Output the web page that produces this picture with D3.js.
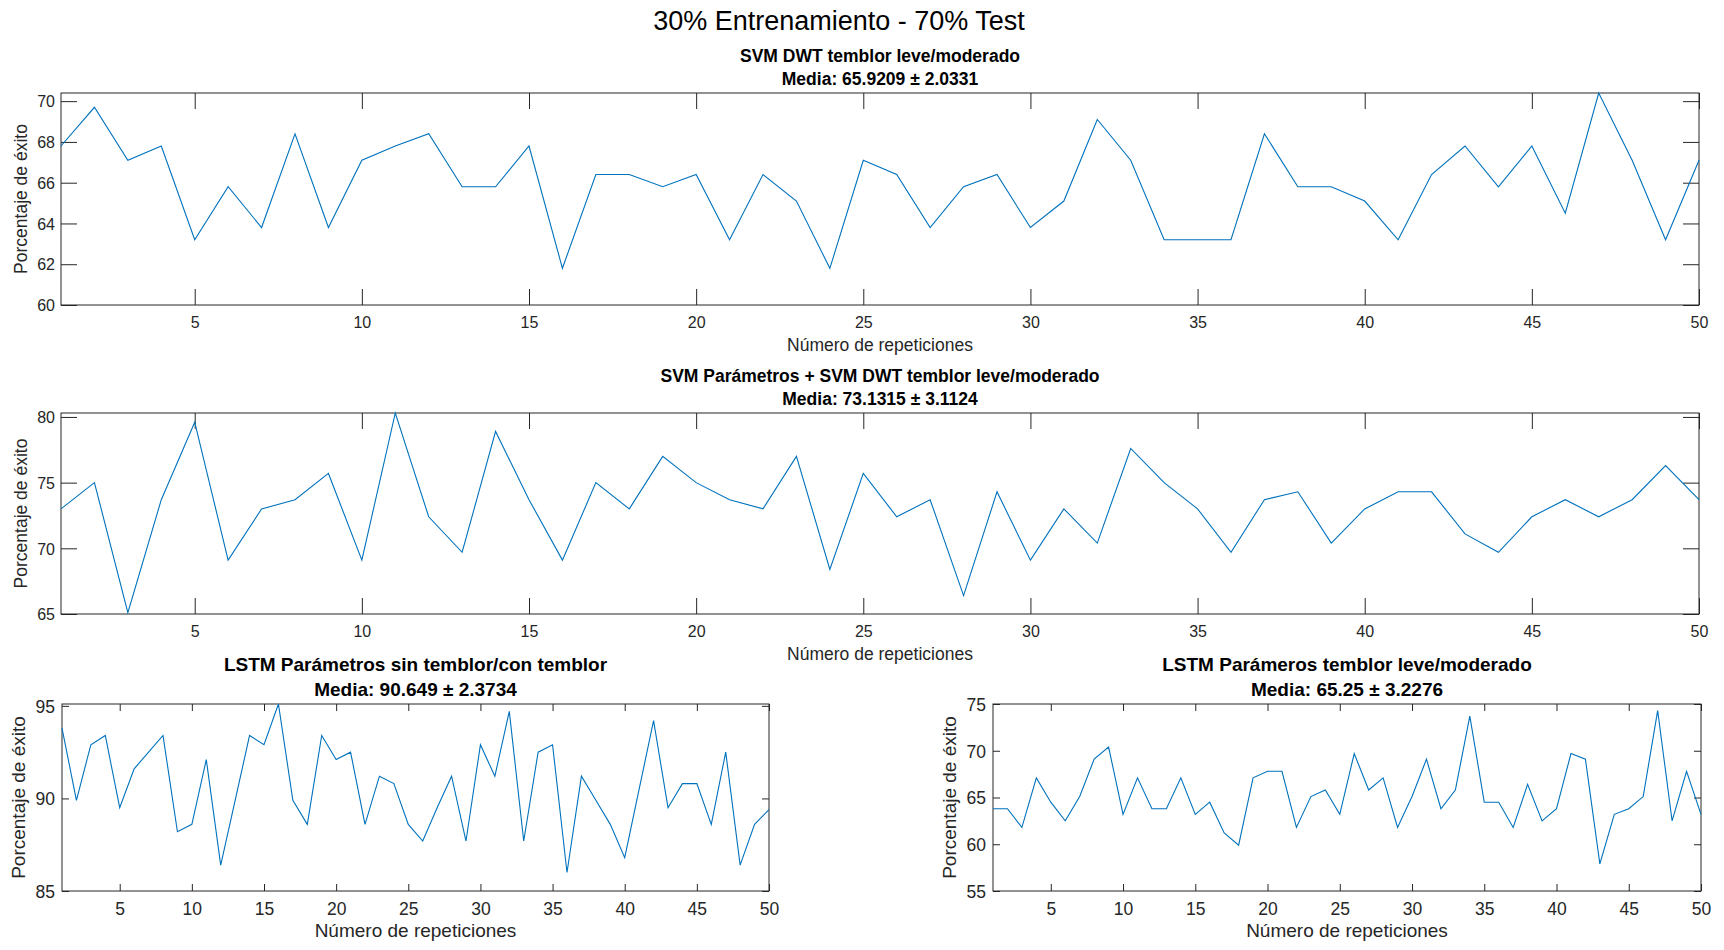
<!DOCTYPE html>
<html>
<head>
<meta charset="utf-8">
<script src="https://cdn.jsdelivr.net/npm/d3@7"></script>
<style>
  html, body { margin: 0; padding: 0; background: #fff; }
  svg { display: block; font-family: "Liberation Sans", Arial, Helvetica, sans-serif; }
</style>
</head>
<body>
<svg id="fig" width="1724" height="950"></svg>
<script>
// Success rate (%) over 50 repetitions, 30% training / 70% test
const repeticiones = d3.range(1, 51);
const xTicks = [5, 10, 15, 20, 25, 30, 35, 40, 45, 50];

const svmDwt = [
  67.8, 69.7, 67.1, 67.8, 63.2, 65.8, 63.8, 68.4, 63.8, 67.1,
  67.8, 68.4, 65.8, 65.8, 67.8, 61.8, 66.4, 66.4, 65.8, 66.4,
  63.2, 66.4, 65.1, 61.8, 67.1, 66.4, 63.8, 65.8, 66.4, 63.8,
  65.1, 69.1, 67.1, 63.2, 63.2, 63.2, 68.4, 65.8, 65.8, 65.1,
  63.2, 66.4, 67.8, 65.8, 67.8, 64.5, 70.4, 67.1, 63.2, 67.1
];
const svmParamDwt = [
  73.0, 75.0, 65.1, 73.7, 79.6, 69.1, 73.0, 73.7, 75.7, 69.1,
  80.3, 72.4, 69.7, 78.9, 73.7, 69.1, 75.0, 73.0, 77.0, 75.0,
  73.7, 73.0, 77.0, 68.4, 75.7, 72.4, 73.7, 66.4, 74.3, 69.1,
  73.0, 70.4, 77.6, 75.0, 73.0, 69.7, 73.7, 74.3, 70.4, 73.0,
  74.3, 74.3, 71.1, 69.7, 72.4, 73.7, 72.4, 73.7, 76.3, 73.7
];
const lstmSinCon = [
  93.8, 89.9, 92.9, 93.4, 89.5, 91.6, 92.5, 93.4, 88.2, 88.6,
  92.1, 86.4, 89.9, 93.4, 92.9, 95.1, 89.9, 88.6, 93.4, 92.1,
  92.5, 88.6, 91.2, 90.8, 88.6, 87.7, 89.5, 91.2, 87.7, 92.9,
  91.2, 94.7, 87.7, 92.5, 92.9, 86.0, 91.2, 89.9, 88.6, 86.8,
  90.5, 94.2, 89.5, 90.8, 90.8, 88.6, 92.5, 86.4, 88.6, 89.4
];
const lstmLeveMod = [
  63.8, 63.8, 61.8, 67.1, 64.5, 62.5, 65.1, 69.1, 70.4, 63.2,
  67.1, 63.8, 63.8, 67.1, 63.2, 64.5, 61.2, 59.9, 67.1, 67.8,
  67.8, 61.8, 65.1, 65.8, 63.2, 69.7, 65.8, 67.1, 61.8, 65.1,
  69.1, 63.8, 65.8, 73.7, 64.5, 64.5, 61.8, 66.4, 62.5, 63.8,
  69.7, 69.1, 57.9, 63.2, 63.8, 65.1, 74.3, 62.5, 67.8, 63.2
];

const yTicksSvmDwt = [60, 62, 64, 66, 68, 70];
const yTicksSvmParamDwt = [65, 70, 75, 80];
const yTicksLstmSinCon = [85, 90, 95];
const yTicksLstmLeveMod = [55, 60, 65, 70, 75];

const figTitle = "30% Entrenamiento - 70% Test";
const titles = [
  "SVM DWT temblor leve/moderado",
  "SVM Parámetros + SVM DWT temblor leve/moderado",
  "LSTM Parámetros sin temblor/con temblor",
  "LSTM Parámeros temblor leve/moderado"
];
const subtitles = [
  "Media: 65.9209 ± 2.0331",
  "Media: 73.1315 ± 3.1124",
  "Media: 90.649 ± 2.3734",
  "Media: 65.25 ± 3.2276"
];
const xLabel = "Número de repeticiones";
const yLabel = "Porcentaje de éxito";

const svg = d3.select("#fig");
const AX = "#262626";

svg.append("text")
  .attr("x", 839).attr("y", 30)
  .attr("text-anchor", "middle")
  .attr("font-size", 27)
  .attr("fill", "#000")
  .text(figTitle);

function drawPanel(values, yTicks, title, subtitle, box, st) {
  const x = d3.scaleLinear().domain([1, 50]).range([box.left, box.right]);
  const yTop = Math.max(d3.max(values), yTicks[yTicks.length - 1]);
  const y = d3.scaleLinear().domain([yTicks[0], yTop]).range([box.bottom, box.top]);
  const g = svg.append("g");

  // inward ticks on all four sides
  const bottomAxis = g.append("g")
    .attr("transform", `translate(0,${box.bottom})`)
    .call(d3.axisBottom(x).tickValues(xTicks).tickSizeInner(-st.tick).tickSizeOuter(0));
  bottomAxis.selectAll("text")
    .attr("y", st.xTickDy).attr("dy", 0)
    .attr("font-size", st.tickFont).attr("fill", AX);

  g.append("g")
    .attr("transform", `translate(0,${box.top})`)
    .call(d3.axisTop(x).tickValues(xTicks).tickSizeInner(-st.tick).tickSizeOuter(0).tickFormat(""));

  const leftAxis = g.append("g")
    .attr("transform", `translate(${box.left},0)`)
    .call(d3.axisLeft(y).tickValues(yTicks).tickSizeInner(-st.tick).tickSizeOuter(0).tickFormat(d3.format("d")));
  leftAxis.selectAll("text")
    .attr("x", -st.yTickDx).attr("dy", "0.36em")
    .attr("font-size", st.tickFont).attr("fill", AX);

  g.append("g")
    .attr("transform", `translate(${box.right},0)`)
    .call(d3.axisRight(y).tickValues(yTicks).tickSizeInner(-st.tick).tickSizeOuter(0).tickFormat(""));

  g.selectAll(".domain").remove();
  g.selectAll(".tick line").attr("stroke", AX).attr("stroke-width", 1);
  g.selectAll("text").attr("font-family", "Liberation Sans, Arial, sans-serif");

  g.append("rect")
    .attr("x", box.left).attr("y", box.top)
    .attr("width", box.right - box.left).attr("height", box.bottom - box.top)
    .attr("fill", "none").attr("stroke", AX).attr("stroke-width", 1);

  const line = d3.line()
    .x((d, i) => x(repeticiones[i]))
    .y(d => y(d));
  g.append("path")
    .datum(values)
    .attr("d", line)
    .attr("fill", "none")
    .attr("stroke", "#0072BD")
    .attr("stroke-width", 1.1)
    .attr("stroke-linejoin", "miter");

  const cx = (box.left + box.right) / 2;
  g.append("text")
    .attr("x", cx).attr("y", box.top - st.titleDy1)
    .attr("text-anchor", "middle").attr("font-weight", "bold")
    .attr("font-size", st.titleFont).attr("fill", "#000")
    .text(title);
  g.append("text")
    .attr("x", cx).attr("y", box.top - st.titleDy2)
    .attr("text-anchor", "middle").attr("font-weight", "bold")
    .attr("font-size", st.titleFont).attr("fill", "#000")
    .text(subtitle);

  g.append("text")
    .attr("x", cx).attr("y", box.bottom + st.xLabelDy)
    .attr("text-anchor", "middle")
    .attr("font-size", st.labelFont).attr("fill", AX)
    .text(xLabel);

  g.append("text")
    .attr("transform", `translate(${box.left - st.yLabelDx},${(box.top + box.bottom) / 2}) rotate(-90)`)
    .attr("text-anchor", "middle")
    .attr("font-size", st.labelFont).attr("fill", AX)
    .text(yLabel);
}

const wideStyle = { tick: 16, tickFont: 16, labelFont: 17.5, titleFont: 17.5,
  xTickDy: 23, yTickDx: 6, xLabelDy: 46, yLabelDx: 34, titleDy1: 31, titleDy2: 8 };
const narrowStyle = { tick: 7, tickFont: 17.5, labelFont: 19, titleFont: 19,
  xTickDy: 24, yTickDx: 7, xLabelDy: 46, yLabelDx: 37, titleDy1: 33, titleDy2: 8 };

drawPanel(svmDwt, yTicksSvmDwt, titles[0], subtitles[0],
  { left: 61, right: 1699, top: 93, bottom: 305 }, wideStyle);
drawPanel(svmParamDwt, yTicksSvmParamDwt, titles[1], subtitles[1],
  { left: 61, right: 1699, top: 413, bottom: 614 }, wideStyle);
drawPanel(lstmSinCon, yTicksLstmSinCon, titles[2], subtitles[2],
  { left: 62, right: 769, top: 704, bottom: 891 }, narrowStyle);
drawPanel(lstmLeveMod, yTicksLstmLeveMod, titles[3], subtitles[3],
  { left: 993, right: 1701, top: 704, bottom: 891 }, narrowStyle);
</script>
</body>
</html>
